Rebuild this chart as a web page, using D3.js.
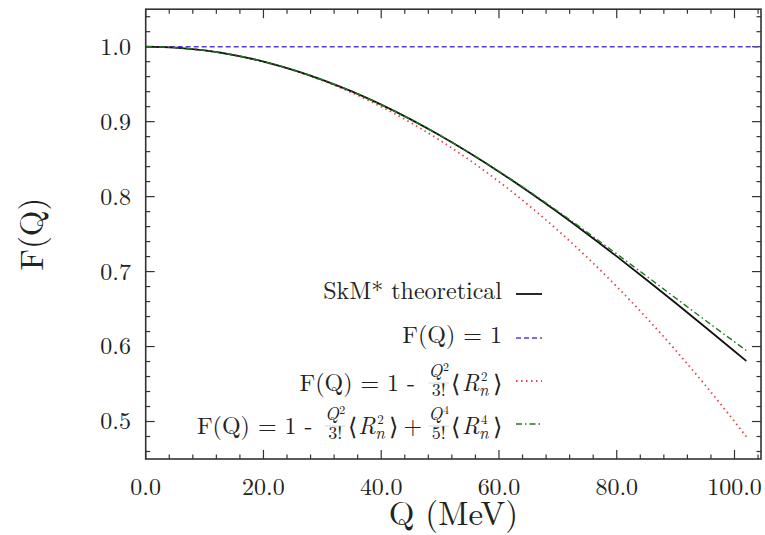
<!DOCTYPE html>
<html>
<head>
<meta charset="utf-8">
<script src="https://cdn.jsdelivr.net/npm/d3@7"></script>
<style>
  body { margin: 0; background: #fff; }
  svg { display: block; }
</style>
</head>
<body>
<svg id="chart" width="765" height="535"></svg>
<script>
// values
const qValues = [0, 5, 10, 15, 20, 25, 30, 35, 40, 45, 50, 55, 60, 65, 70, 75, 80, 85, 90, 95, 100, 102];
const skmTheoretical = [1.0, 0.99875, 0.99501, 0.9888, 0.98017, 0.96917, 0.95585, 0.9403, 0.92265, 0.90299, 0.88145,
  0.85813, 0.83319, 0.80677, 0.77905, 0.75015, 0.72026, 0.68952, 0.6581, 0.62614, 0.59381, 0.5808];
const secondOrder = [1.0, 0.99875, 0.995, 0.98875, 0.98, 0.96875, 0.955, 0.93875, 0.92, 0.89875, 0.875,
  0.84875, 0.82, 0.78875, 0.755, 0.71875, 0.68, 0.63875, 0.595, 0.54875, 0.5, 0.4798];
const fourthOrder = [1.0, 0.99875, 0.99501, 0.9888, 0.98017, 0.96917, 0.95586, 0.94034, 0.92272, 0.90311, 0.88164,
  0.85847, 0.83377, 0.80771, 0.78051, 0.75236, 0.72352, 0.69421, 0.6647, 0.63528, 0.60624, 0.5948];
const unityQ = [0, 104.5];
const unityF = [1.0, 1.0];

const xTickValues = [0, 20, 40, 60, 80, 100];
const yTickValues = [0.5, 0.6, 0.7, 0.8, 0.9, 1.0];

const serif = '"Latin Modern Roman", "Liberation Serif", serif';
const ink = '#222';
const svg = d3.select('#chart');
const plotLeft = 145.7, plotRight = 761, plotTop = 9.2, plotBottom = 459;

const x = d3.scaleLinear().domain([0, 104.5]).range([plotLeft, plotRight]);
const y = d3.scaleLinear().domain([0.45, 1.05]).range([plotBottom, plotTop]);

// clip to plot box
svg.append('clipPath').attr('id', 'clip')
  .append('rect').attr('x', plotLeft).attr('y', plotTop)
  .attr('width', plotRight - plotLeft).attr('height', plotBottom - plotTop);

// ticks on all four sides, pointing inward
const xMinor = d3.range(0, 105, 4);
const yMinor = d3.range(0.46, 1.05, 0.02);
const tickG = svg.append('g').attr('stroke', '#333').attr('stroke-width', 1.2);
const majorLen = 9, minorLen = 4.5;
xMinor.forEach(v => {
  const len = (Math.round(v) % 20 === 0) ? majorLen : minorLen;
  tickG.append('line').attr('x1', x(v)).attr('x2', x(v)).attr('y1', plotBottom).attr('y2', plotBottom - len);
  tickG.append('line').attr('x1', x(v)).attr('x2', x(v)).attr('y1', plotTop).attr('y2', plotTop + len);
});
yMinor.forEach(v => {
  const isMajor = Math.abs(v * 10 - Math.round(v * 10)) < 1e-6;
  const len = isMajor ? majorLen : minorLen;
  tickG.append('line').attr('x1', plotLeft).attr('x2', plotLeft + len).attr('y1', y(v)).attr('y2', y(v));
  tickG.append('line').attr('x1', plotRight).attr('x2', plotRight - len).attr('y1', y(v)).attr('y2', y(v));
});

// tick labels
svg.append('g').selectAll('text')
  .data(xTickValues)
  .enter().append('text')
  .attr('x', d => x(d))
  .attr('y', 495)
  .attr('text-anchor', 'middle')
  .attr('fill', ink)
  .style('font-family', serif)
  .style('font-size', '24px')
  .text(d => d.toFixed(1));

svg.append('g').selectAll('text')
  .data(yTickValues)
  .enter().append('text')
  .attr('x', 131)
  .attr('y', d => y(d))
  .attr('dy', '0.33em')
  .attr('text-anchor', 'end')
  .attr('fill', ink)
  .style('font-family', serif)
  .style('font-size', '24px')
  .text(d => d.toFixed(1));

// axis titles
svg.append('text')
  .attr('x', (plotLeft + plotRight) / 2)
  .attr('y', 525)
  .attr('text-anchor', 'middle')
  .attr('fill', ink)
  .style('font-family', serif)
  .style('font-size', '33px')
  .text('Q (MeV)');

svg.append('text')
  .attr('transform', `translate(43,${(plotTop + plotBottom) / 2}) rotate(-90)`)
  .attr('text-anchor', 'middle')
  .attr('fill', ink)
  .style('font-family', serif)
  .style('font-size', '33px')
  .text('F(Q)');

// curves
const line = d3.line()
  .x(d => x(d[0]))
  .y(d => y(d[1]))
  .curve(d3.curveMonotoneX);

const series = [
  { q: unityQ, f: unityF, color: '#5b3cd6', width: 1.6, dash: '5,3' },
  { q: qValues, f: secondOrder, color: '#e8424c', width: 1.8, dash: '1.5,3.5' },
  { q: qValues, f: skmTheoretical, color: '#111', width: 1.8, dash: null },
  { q: qValues, f: fourthOrder, color: '#1f7a1f', width: 1.4, dash: '6,3,1.5,3' }
];

const plot = svg.append('g').attr('clip-path', 'url(#clip)');
series.forEach(s => {
  plot.append('path')
    .datum(s.q.map((q, i) => [q, s.f[i]]))
    .attr('fill', 'none')
    .attr('stroke', s.color)
    .attr('stroke-width', s.width)
    .attr('stroke-dasharray', s.dash)
    .attr('d', line);
});

// frame
svg.append('rect')
  .attr('x', plotLeft).attr('y', plotTop)
  .attr('width', plotRight - plotLeft).attr('height', plotBottom - plotTop)
  .attr('fill', 'none').attr('stroke', '#333').attr('stroke-width', 1.6);

// legend with small hand-built math
const textRight = 502, sampleX1 = 516, sampleX2 = 542;
const mainSize = 24, smallSize = 18, tinySize = 12;

function txt(g, xx, yy, s, size, italic) {
  const t = g.append('text').attr('x', xx).attr('y', yy).attr('fill', ink)
    .style('font-family', serif).style('font-size', size + 'px').text(s);
  if (italic) t.style('font-style', 'italic');
  return t.node().getComputedTextLength();
}
function plain(s) { return (g, xx) => txt(g, xx, 0, s, mainSize, false); }
function gap(n) { return () => n; }
function frac(numBase, numExp, den) {
  return (g, xx) => {
    const pad = 1.5;
    const g2 = g.append('g');
    const wQ = txt(g2, 0, -14, numBase, smallSize, true);
    const wE = txt(g2, wQ + 0.5, -20.5, numExp, tinySize, false);
    const wNum = wQ + 0.5 + wE;
    const wDen = txt(g2, 0, 5, den, smallSize, false);
    const w = Math.max(wNum, wDen);
    g2.selectAll('text').each(function (d, i) {
      const t = d3.select(this);
      const shift = (i < 2 ? (w - wNum) / 2 : (w - wDen) / 2) + pad;
      t.attr('x', +t.attr('x') + shift);
    });
    g2.append('line').attr('x1', pad).attr('x2', w + pad).attr('y1', -8).attr('y2', -8)
      .attr('stroke', '#aaa').attr('stroke-width', 0.5);
    g2.attr('transform', `translate(${xx},0)`);
    return w + pad * 2;
  };
}
function moment(exp) {
  return (g, xx) => {
    const g2 = g.append('g').attr('transform', `translate(${xx},0)`);
    let w = txt(g2, 0, 1, '\u27E8', mainSize, false) + 1.5;
    const wR = txt(g2, w, 0, 'R', mainSize, true);
    const wSup = txt(g2, w + wR + 1.5, -10.5, exp, tinySize + 1, false);
    const wSub = txt(g2, w + wR - 0.5, 5, 'n', smallSize - 1, true);
    w += wR + Math.max(wSup + 1.5, wSub - 0.5) + 4.5;
    w += txt(g2, w, 1, '\u27E9', mainSize, false);
    return w;
  };
}

const legendRows = [
  { y: 294, base: 5, parts: [plain('SkM* theoretical')], s: series[2] },
  { y: 338, base: 5, parts: [plain('F(Q) = 1')], s: series[0] },
  { y: 381, base: 10, parts: [plain('F(Q) = 1 -'), gap(12), frac('Q', '2', '3!'), gap(1), moment('2')], s: series[1] },
  { y: 424, base: 10, parts: [plain('F(Q) = 1 -'), gap(11), frac('Q', '2', '3!'), gap(1), moment('2'), gap(5), plain('+'), gap(5), frac('Q', '4', '5!'), gap(1), moment('4')], s: series[3] }
];

legendRows.forEach(row => {
  const g = svg.append('g');
  let w = 0;
  row.parts.forEach(p => { w += p(g, w); });
  g.attr('transform', `translate(${textRight - w},${row.y + row.base})`);
  svg.append('line')
    .attr('x1', sampleX1).attr('x2', sampleX2)
    .attr('y1', row.y).attr('y2', row.y)
    .attr('stroke', row.s.color)
    .attr('stroke-width', row.s.width)
    .attr('stroke-dasharray', row.s.dash);
});
</script>
</body>
</html>
